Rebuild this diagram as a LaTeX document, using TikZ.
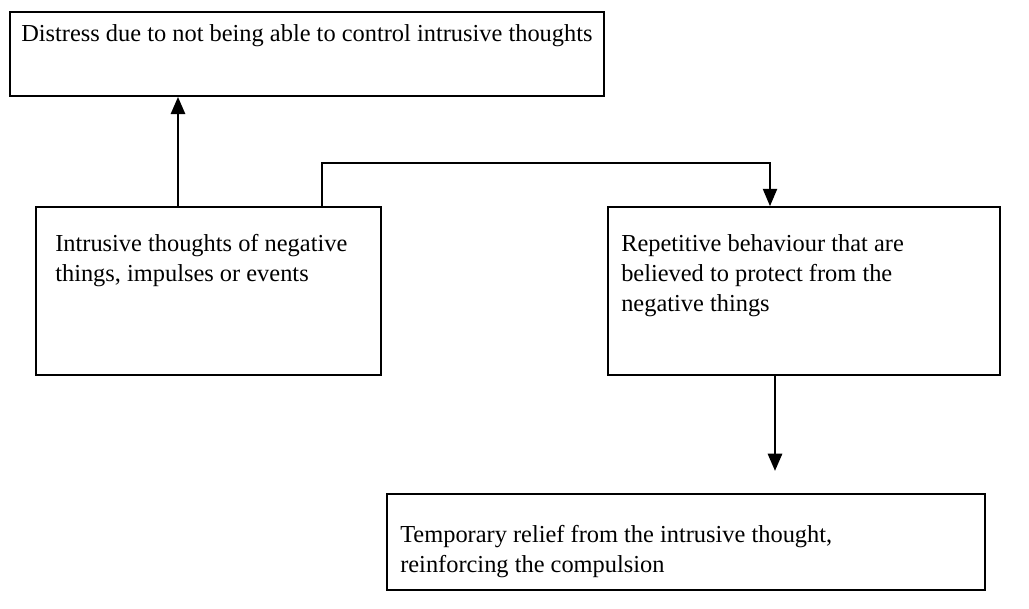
\documentclass[tikz,border=0pt]{standalone}
\usepackage{fontspec}
\setmainfont{Liberation Serif}
\usetikzlibrary{arrows.meta,fit}
\begin{document}
\begin{tikzpicture}[x=0.75pt,y=-0.75pt,
  box/.style={draw, line width=1.2pt, inner sep=0pt, rectangle},
  txt/.style={anchor=base west, inner sep=0pt,
    font=\fontsize{18.3pt}{22.5pt}\selectfont},
  arr/.style={line width=2.2pt, -{Triangle[width=10.5pt,length=13pt]}},
  conn/.style={line width=1.6pt, -{Triangle[width=10.5pt,length=13pt]}}]
\useasboundingbox (0,0) rectangle (1029,608);
\fill[white] (0,0) rectangle (1029,608);
% boxes
\node[box, fit={(10,12) (604,96)}] (b1) {};
\node[box, fit={(36,207) (381,375)}] (b2) {};
\node[box, fit={(608,207) (1000,375)}] (b3) {};
\node[box, fit={(387,494) (985,590)}] (b4) {};
% texts
\node[txt] (t1) at (21,41) {Distress due to not being able to control intrusive thoughts};
\node[txt] (t2) at (55,251) {\vtop{\hbox{Intrusive thoughts of negative}\hbox{things, impulses or events}}};
\node[txt] (t3) at (621,251) {\vtop{\hbox{Repetitive behaviour that are}\hbox{believed to protect from the}\hbox{negative things}}};
\node[txt] (t4) at (400,542) {\vtop{\hbox{Temporary relief from the intrusive thought,}\hbox{reinforcing the compulsion}}};
% connectors
\coordinate (a1) at (178,0);
\draw[arr] (a1 |- b2.north) -- (a1 |- b1.south);
\coordinate (c1) at (322,163);
\coordinate (c2) at (770,163);
\draw[conn] (c1 |- b2.north) -- (c1) -- (c2) -- (c2 |- b3.north);
\coordinate (a3) at (775,471);
\draw[arr] (a3 |- b3.south) -- (a3);
\end{tikzpicture}
\end{document}
